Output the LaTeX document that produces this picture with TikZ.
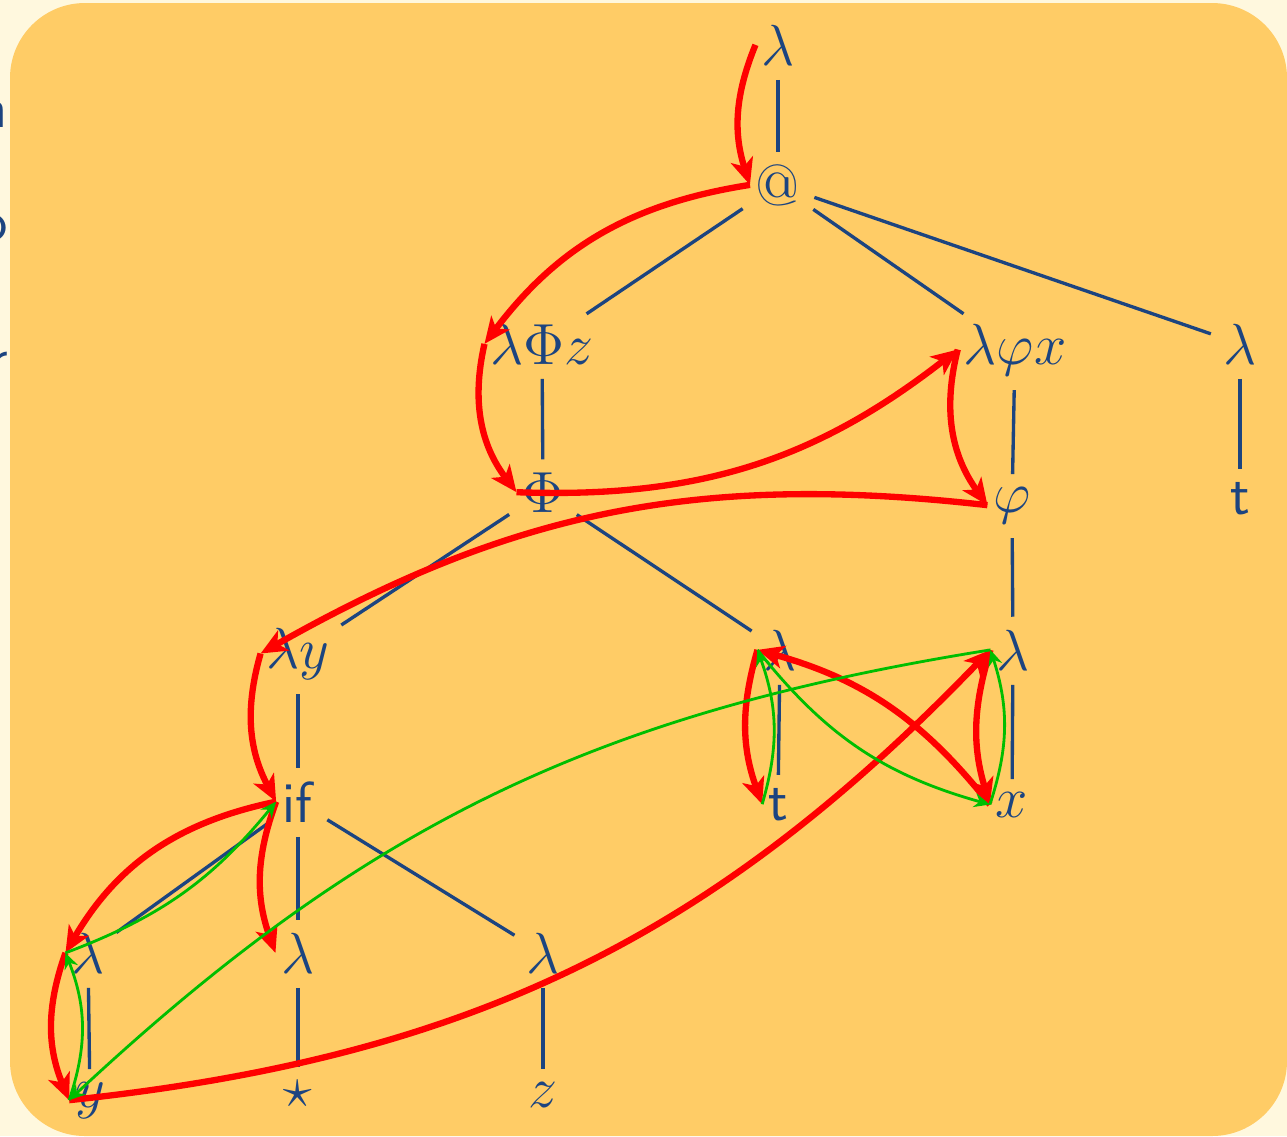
\RequirePackage{fix-cm}
\documentclass[tikz,border=0pt]{standalone}
\usetikzlibrary{arrows.meta}
\definecolor{slideblue}{RGB}{28,68,128}
\definecolor{slidecream}{RGB}{255,248,222}
\definecolor{boxorange}{RGB}{255,204,102}
\definecolor{walkred}{RGB}{255,0,0}
\definecolor{backgreen}{RGB}{0,190,0}

\begin{document}
\begin{tikzpicture}[
  term/.style={anchor=base, inner sep=1.5pt, text=slideblue, font=\fontsize{16.5}{20}\selectfont},
  tree/.style={draw=slideblue, line width=0.95pt, shorten <=2.5pt, shorten >=2pt},
  walk/.style={-{Stealth[length=7.5pt,width=6.5pt,inset=2pt]}, draw=walkred, line width=1.8pt},
  back/.style={-{Stealth[length=4.5pt,width=4pt,inset=1.5pt]}, draw=backgreen, line width=0.8pt}
]
\useasboundingbox (0,0) rectangle (12.87,-11.36);
\fill[slidecream] (0,0) rectangle (12.87,-11.36);
% slide text peeking out on the left
\node[term, anchor=base east] (peekA) at (0.14,-1.27) {\textsf{n}};
\node[term, anchor=base east] (peekB) at (0.14,-2.40) {\textsf{o}};
\node[term, anchor=base east] (peekC) at (0.14,-3.77) {\textsf{r}};
\fill[boxorange, rounded corners=0.75cm] (0.10,-0.03) rectangle (12.87,-11.36);

% the term graph
\node[term] (lamA)   at (7.78,-0.65)  {$\lambda$};
\node[term] (app)    at (7.78,-2.05)  {$@$};
\node[term] (lamPhi) at (5.42,-3.64)  {$\lambda\Phi z$};
\node[term] (lamPhx) at (10.15,-3.64) {$\lambda\varphi x$};
\node[term] (lamC)   at (12.40,-3.64) {$\lambda$};
\node[term] (Phi)    at (5.43,-5.12)  {$\Phi$};
\node[term] (phi)    at (10.12,-5.12) {$\varphi$};
\node[term] (tC)     at (12.40,-5.14) {\textsf{t}};
\node[term] (lamy)   at (2.98,-6.68)  {$\lambda y$};
\node[term] (lamD)   at (7.80,-6.70)  {$\lambda$};
\node[term] (lamE)   at (10.13,-6.70) {$\lambda$};
\node[term] (cond)   at (2.98,-8.22)  {\textsf{if}};
\node[term] (tD)     at (7.78,-8.20)  {\textsf{t}};
\node[term] (x)      at (10.12,-8.17) {$x$};
\node[term] (lamF)   at (0.88,-9.73)  {$\lambda$};
\node[term] (lamG)   at (2.98,-9.73)  {$\lambda$};
\node[term] (lamH)   at (5.43,-9.73)  {$\lambda$};
\node[term] (y)      at (0.90,-11.07) {$y$};
\node[term] (star)   at (2.98,-11.07) {$\star$};
\node[term] (z)      at (5.43,-11.07) {$z$};

\draw[tree] (lamA) -- (app);
\draw[tree] (app) -- (lamPhi);
\draw[tree] (app) -- (lamPhx);
\draw[tree] (app) -- (lamC);
\draw[tree] (lamPhi) -- (Phi);
\draw[tree] (lamPhx) -- (phi);
\draw[tree] (lamC) -- (tC);
\draw[tree] (Phi) -- (lamy);
\draw[tree] (Phi) -- (lamD);
\draw[tree] (phi) -- (lamE);
\draw[tree] (lamy) -- (cond);
\draw[tree] (lamD) -- (tD);
\draw[tree] (lamE) -- (x);
\draw[tree] (cond) -- (lamF);
\draw[tree] (cond) -- (lamG);
\draw[tree] (cond) -- (lamH);
\draw[tree] (lamF) -- (y);
\draw[tree] (lamG) -- (star);
\draw[tree] (lamH) -- (z);

% red walk
\draw[walk] (lamA.west) to[bend right=20] (app.west);
\draw[walk] (app.west) to[bend right=22] (lamPhi.west);
\draw[walk] (lamPhi.west) to[bend right=25] (Phi.west);
\draw[walk] (Phi.west) to[bend right=20] (lamPhx.west);
\draw[walk] (lamPhx.west) to[bend right=25] (phi.west);
\draw[walk] (phi.west) to[bend right=18] (lamy.west);
\draw[walk] (lamy.west) to[bend right=22] (cond.west);
\draw[walk] (cond.west) to[bend right=24] (lamF.west);
\draw[walk] (cond.west) to[bend right=20] (lamG.west);
\draw[walk] (lamF.west) to[bend right=21] (y.west);
\draw[walk] (y.west) to[bend right=20] (lamE.west);
\draw[walk] (lamE.west) to[bend right=17] (x.west);
\draw[walk] (x.west) to[bend right=18] (lamD.west);
\draw[walk] (lamD.west) to[bend right=18] (tD.west);

% green way back
\draw[back] (tD.west) to[bend right=18] (lamD.west);
\draw[back] (lamD.west) to[bend right=18] (x.west);
\draw[back] (x.west) to[bend right=18] (lamE.west);
\draw[back] (lamE.west) to[bend right=17] (y.west);
\draw[back] (y.west) to[bend right=20] (lamF.west);
\draw[back] (lamF.west) to[bend right=15] (cond.west);
\end{tikzpicture}
\end{document}
